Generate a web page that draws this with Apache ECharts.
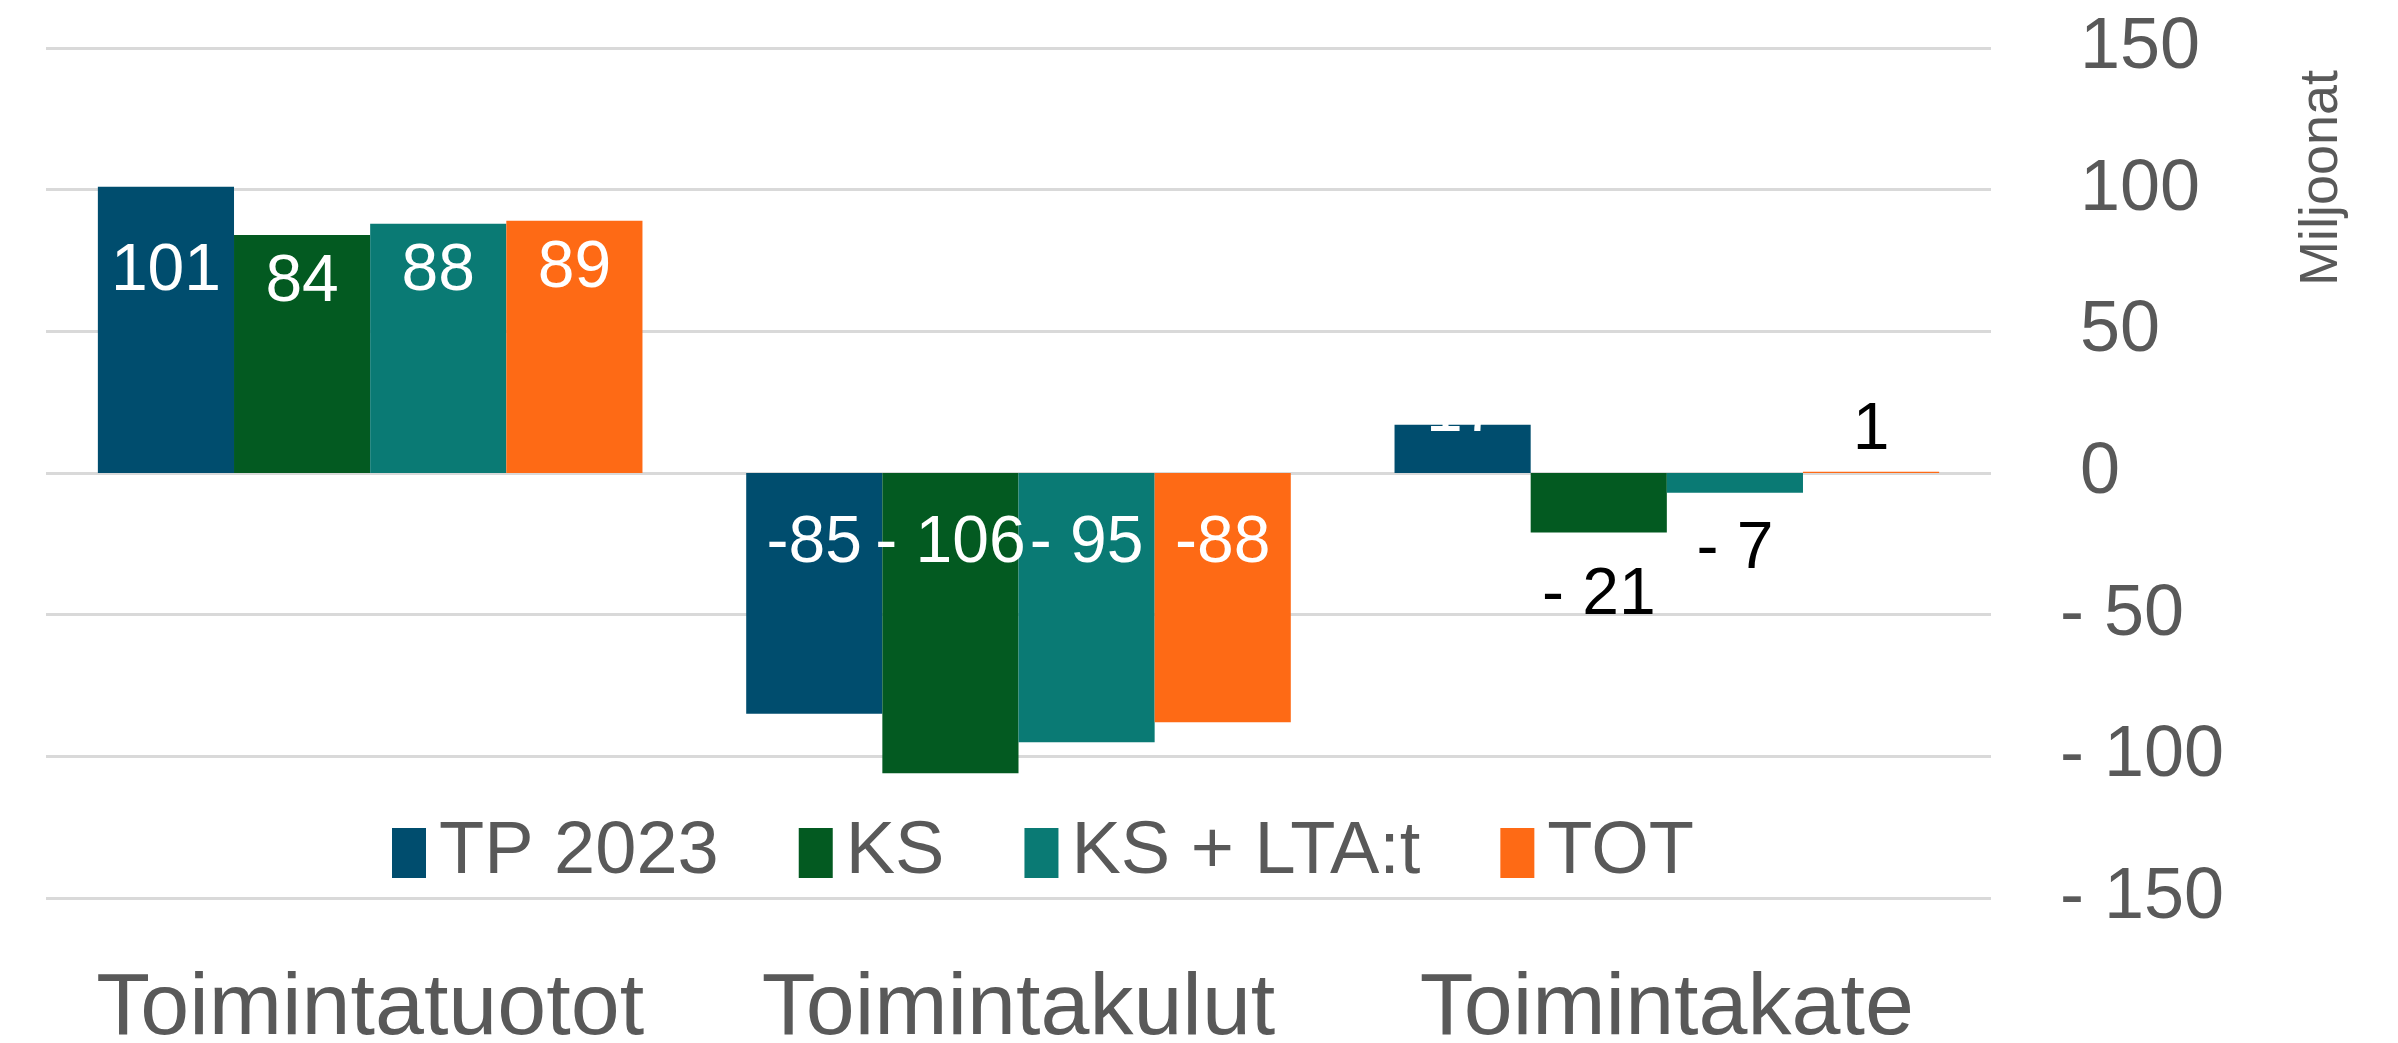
<!DOCTYPE html>
<html>
<head>
<meta charset="utf-8">
<title>Toiminta</title>
<script src="https://cdn.jsdelivr.net/npm/echarts@6/dist/echarts.min.js"></script>
<style>
    html, body {margin: 0; padding: 0; background: #fff;}
    #chart {width: 2398px; height: 1043px;}
</style>
</head>
<body>
<div id="chart"></div>
<script>
const categories = ['Toimintatuotot', 'Toimintakulut', 'Toimintakate'];
const seriesNames = ['TP 2023', 'KS', 'KS + LTA:t', 'TOT'];

const tp2023 = [101, -85, 17];
const ks = [84, -106, -21];
const ksLta = [88, -95, -7];
const tot = [89, -88, 0.4];

// label texts as printed on the chart
const tp2023Text = ['101', '-85', '17'];
const ksText = ['84', '- 106', '- 21'];
const ksLtaText = ['88', '- 95', '- 7'];
const totText = ['89', '-88', '1'];

const yMin = -150, yMax = 150, yStep = 50;

const colors = ['#004d6e', '#035a21', '#0a7a74', '#fe6a15'];
const font = '"Liberation Sans", Arial, sans-serif';
const grey = '#595959';

function labelFor(catIdx, v) {
    if (catIdx === 0) {
        return {position: 'insideTop', distance: v > 100 ? 52 : 15, color: '#fff'};
    }
    if (catIdx === 1) {
        return {position: 'insideTop', distance: 38, color: '#fff'};
    }
    if (v > 5) {
        // the label sits half above the bar, white on white
        return {position: 'insideTop', distance: 5, offset: [0, -50], color: '#fff'};
    }
    if (v >= 0) {
        return {position: 'top', distance: 8, color: '#000'};
    }
    return {position: 'bottom', distance: v < -10 ? 30 : 24, color: '#000'};
}

function makeSeries(name, values, texts, color) {
    return {
        name: name,
        type: 'bar',
        barGap: '0%',
        barCategoryGap: '16%',
        itemStyle: {color: color},
        label: {show: true, fontSize: 66, fontFamily: font},
        data: values.map(function (v, i) {
            let lab = labelFor(i, v);
            lab.formatter = texts[i];
            return {value: v, label: lab};
        })
    };
}

let chart = echarts.init(document.getElementById('chart'));
chart.setOption({
    animation: false,
    backgroundColor: '#fff',
    textStyle: {fontFamily: font},
    grid: {left: 46, right: 407, top: 48, bottom: 145, containLabel: false, outerBoundsMode: 'none'},
    legend: {
        data: seriesNames,
        left: 387,
        top: 811,
        itemWidth: 34,
        itemHeight: 50,
        itemGap: 80,
        icon: 'rect',
        textStyle: {fontSize: 74, color: grey, fontFamily: font, padding: [0, 0, 0, 8]}
    },
    xAxis: {
        type: 'category',
        data: categories,
        axisLine: {show: false},
        axisTick: {show: false},
        axisLabel: {fontSize: 88, color: grey, margin: 68, interval: 0, fontFamily: font}
    },
    yAxis: {
        type: 'value',
        position: 'right',
        min: yMin,
        max: yMax,
        interval: yStep,
        axisLine: {show: false},
        axisTick: {show: false},
        splitLine: {lineStyle: {color: '#d9d9d9', width: 3}},
        axisLabel: {
            fontSize: 72,
            color: grey,
            align: 'left',
            margin: 69,
            fontFamily: font,
            formatter: function (v) {
                return v < 0 ? '- ' + Math.abs(v) : ' ' + v;
            }
        }
    },
    graphic: [{
        type: 'text',
        x: 2322,
        y: 178,
        rotation: Math.PI / 2,
        style: {
            text: 'Miljoonat',
            fontSize: 54,
            fontFamily: font,
            fill: grey,
            align: 'center',
            verticalAlign: 'middle'
        }
    }],
    series: [
        makeSeries(seriesNames[0], tp2023, tp2023Text, colors[0]),
        makeSeries(seriesNames[1], ks, ksText, colors[1]),
        makeSeries(seriesNames[2], ksLta, ksLtaText, colors[2]),
        makeSeries(seriesNames[3], tot, totText, colors[3])
    ]
});
</script>
</body>
</html>
